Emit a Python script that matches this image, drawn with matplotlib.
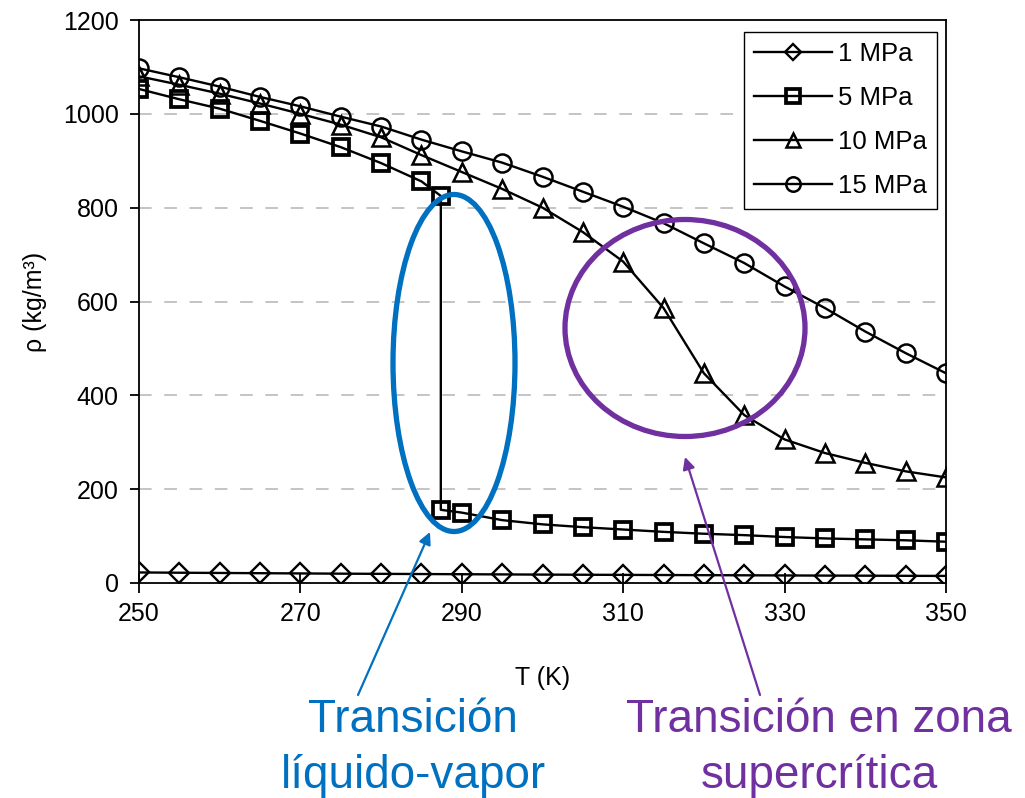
import matplotlib
matplotlib.use('Agg')
import matplotlib.pyplot as plt
from matplotlib.patches import Ellipse

plt.rcParams['font.family'] = ['Liberation Sans', 'DejaVu Sans']

# ---------------- data ----------------
T = [250, 255, 260, 265, 270, 275, 280, 285, 290, 295, 300,
     305, 310, 315, 320, 325, 330, 335, 340, 345, 350]

rho_1MPa = [22.5, 21.9, 21.4, 20.9, 20.4, 19.9, 19.5, 19.1, 18.7, 18.3, 17.9,
            17.6, 17.3, 17.0, 16.7, 16.4, 16.1, 15.8, 15.6, 15.3, 15.1]

T_5MPa = [250, 255, 260, 265, 270, 275, 280, 285, 287.4, 287.4, 290, 295, 300,
          305, 310, 315, 320, 325, 330, 335, 340, 345, 350]
rho_5MPa = [1053, 1031, 1011, 985, 958, 929, 895, 856, 825, 156, 150, 134, 125,
            119, 114, 109, 105, 102, 98, 95, 93, 91, 88]

rho_10MPa = [1080, 1062, 1043, 1022, 1000, 977, 950, 912, 876, 840, 800,
             748, 685, 586, 447, 358, 306, 277, 256, 238, 225]

rho_15MPa = [1097, 1078, 1058, 1036, 1016, 994, 973, 945, 920, 896, 866,
             834, 802, 767, 724, 682, 632, 586, 536, 490, 447]

series_labels = ['1 MPa', '5 MPa', '10 MPa', '15 MPa']
x_ticks = [250, 270, 290, 310, 330, 350]
y_ticks = [0, 200, 400, 600, 800, 1000, 1200]

annot_left = ['Transición', 'líquido-vapor']
annot_right = ['Transición en zona', 'supercrítica']
xlabel = 'T (K)'
ylabel = 'ρ (kg/m³)'

# ---------------- figure ----------------
W, H = 1025, 798
fig = plt.figure(figsize=(W / 100, H / 100), dpi=100)
ax = fig.add_axes([139 / W, (H - 583) / H, (946 - 139) / W, (583 - 20) / H])

line_kw = dict(color='black', lw=1.7, mfc='none', mec='black')
ax.plot(T, rho_1MPa, marker='D', ms=10, mew=1.7, label=series_labels[0], **line_kw)
ax.plot(T_5MPa, rho_5MPa, marker='s', ms=12, mew=2.7, label=series_labels[1], **line_kw)
ax.plot(T, rho_10MPa, marker='^', ms=13, mew=1.8, label=series_labels[2], **line_kw)
ax.plot(T, rho_15MPa, marker='o', ms=13, mew=1.8, label=series_labels[3], **line_kw)

ax.set_xlim(250, 350)
ax.set_ylim(0, 1200)
ax.set_xticks(x_ticks)
ax.set_yticks(y_ticks)

for y in y_ticks[1:-1]:
    ax.axhline(y, color='#BFBFBF', lw=1.3, dashes=(7, 7), zorder=0)

for s in ax.spines.values():
    s.set_color('black')
    s.set_linewidth(1.3)

ax.tick_params(axis='x', direction='inout', length=15, width=1.3, pad=6,
               labelsize=18)
ax.tick_params(axis='y', direction='out', length=6.5, width=1.3, pad=8,
               labelsize=18)

ax.set_xlabel(xlabel, fontsize=18)
ax.xaxis.set_label_coords(0.5, (583 - 666) / 563, transform=ax.transAxes)
ax.set_ylabel(ylabel, fontsize=18)
ax.yaxis.set_label_coords((47 - 139) / 807, 0.5, transform=ax.transAxes)

leg = ax.legend(loc='upper right', bbox_to_anchor=(0.989, 0.979),
                fontsize=18.5, frameon=True, fancybox=False, framealpha=1,
                edgecolor='black', handlelength=3.0, handletextpad=0.25,
                labelspacing=0.78, borderpad=0.4, borderaxespad=0,
                numpoints=1, markerscale=0.8)
leg.get_frame().set_linewidth(1.0)

# ---------------- annotations ----------------
blue = '#0070C0'
purple = '#7030A0'


def px2data(px, py):
    """figure pixel (top-left origin) -> data coordinates"""
    disp = fig.transFigure.transform((px / W, (H - py) / H))
    return ax.transData.inverted().transform(disp)


fig.canvas.draw()
# ellipses (defined in figure pixels)
for (cx, cy, ew, eh, col) in [(454, 363, 122, 337, blue), (685, 328, 240, 217, purple)]:
    c = px2data(cx, cy)
    p0 = px2data(cx - ew / 2, cy + eh / 2)
    p1 = px2data(cx + ew / 2, cy - eh / 2)
    ax.add_patch(Ellipse(c, p1[0] - p0[0], p1[1] - p0[1], fill=False,
                         edgecolor=col, lw=3.8, clip_on=False, zorder=5))

# arrows
ax.annotate('', xy=(430, H - 532), xycoords='figure pixels',
            xytext=(358, H - 695), textcoords='figure pixels',
            arrowprops=dict(arrowstyle='-|>', color=blue, lw=1.6,
                            mutation_scale=18, shrinkA=0, shrinkB=0))
ax.annotate('', xy=(685, H - 457), xycoords='figure pixels',
            xytext=(760, H - 695), textcoords='figure pixels',
            arrowprops=dict(arrowstyle='-|>', color=purple, lw=1.6,
                            mutation_scale=18, shrinkA=0, shrinkB=0))

for lines, cx, col in [(annot_left, 413, blue), (annot_right, 819, purple)]:
    for txt, base in zip(lines, [732, 788]):
        fig.text(cx / W, (H - base) / H, txt, color=col, fontsize=33,
                 ha='center', va='baseline')

fig.savefig('out.png', dpi=100)
